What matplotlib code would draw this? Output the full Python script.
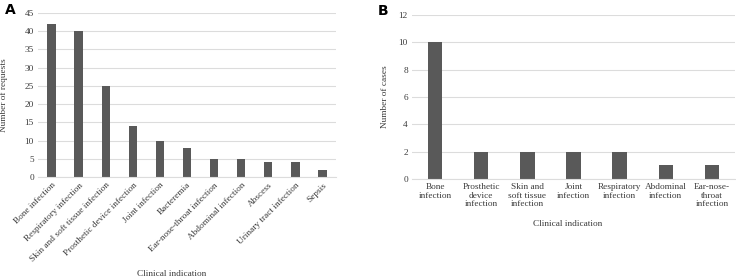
import matplotlib
matplotlib.use("Agg")
import matplotlib.pyplot as plt

cats_a = ["Bone infection", "Respiratory infection", "Skin and soft tissue infection",
          "Prosthetic device infection", "Joint infection", "Bacteremia",
          "Ear-nose-throat infection", "Abdominal infection", "Abscess",
          "Urinary tract infection", "Sepsis"]
vals_a = [42, 40, 25, 14, 10, 8, 5, 5, 4, 4, 2]
yticks_a = [0, 5, 10, 15, 20, 25, 30, 35, 40, 45]

cats_b = ["Bone\ninfection", "Prosthetic\ndevice\ninfection", "Skin and\nsoft tissue\ninfection",
          "Joint\ninfection", "Respiratory\ninfection", "Abdominal\ninfection",
          "Ear-nose-\nthroat\ninfection"]
vals_b = [10, 2, 2, 2, 2, 1, 1]
yticks_b = [0, 2, 4, 6, 8, 10, 12]

W, H = 736, 279
plt.rcParams['font.family'] = ['Liberation Serif', 'DejaVu Serif']
fs = 6.7
bar_color = "#595959"
grid_color = "#dcdcdc"
txt_color = "#3a3a3a"

fig = plt.figure(figsize=(W/100, H/100), dpi=100)

def style(ax, yt):
    ax.set_yticks(yt)
    ax.set_ylim(yt[0], yt[-1])
    ax.yaxis.grid(True, color=grid_color, linewidth=0.8)
    ax.set_axisbelow(True)
    for s in ["top", "right", "left"]:
        ax.spines[s].set_visible(False)
    ax.spines["bottom"].set_color(grid_color)
    ax.spines["bottom"].set_linewidth(0.8)
    ax.tick_params(axis="both", length=0, labelsize=fs, colors=txt_color, pad=3)

# Panel A
axA = fig.add_axes([38/W, (H-177)/H, 298/W, 164/H])
xa = list(range(len(cats_a)))
axA.bar(xa, vals_a, width=0.31, color=bar_color)
axA.set_xlim(-0.5, len(cats_a)-0.5)
style(axA, yticks_a)
axA.set_xticks(xa)
axA.set_xticklabels(cats_a, rotation=45, ha="right", rotation_mode="anchor")
axA.set_ylabel("Number of requests", fontsize=fs, color=txt_color)
axA.yaxis.set_label_coords((8.5-38)/298, 0.5)
fig.text(172/W, 1-274/H, "Clinical indication", fontsize=fs, color=txt_color,
         ha="center", va="center")
fig.text(10/W, 1-10/H, "A", fontsize=10, fontweight="bold", family="DejaVu Sans",
         va="center", ha="center")

# Panel B
axB = fig.add_axes([412/W, (H-179)/H, 323/W, 164/H])
xb = list(range(len(cats_b)))
axB.bar(xb, vals_b, width=0.31, color=bar_color)
axB.set_xlim(-0.5, len(cats_b)-0.5)
style(axB, yticks_b)
axB.set_xticks(xb)
axB.set_xticklabels(cats_b, linespacing=1.1)
axB.set_ylabel("Number of cases", fontsize=fs, color=txt_color)
axB.yaxis.set_label_coords((389-412)/323, 0.5)
fig.text(568/W, 1-224/H, "Clinical indication", fontsize=fs, color=txt_color,
         ha="center", va="center")
fig.text(383/W, 1-11/H, "B", fontsize=10, fontweight="bold", family="DejaVu Sans",
         va="center", ha="center")

fig.savefig("out.png", dpi=100)
